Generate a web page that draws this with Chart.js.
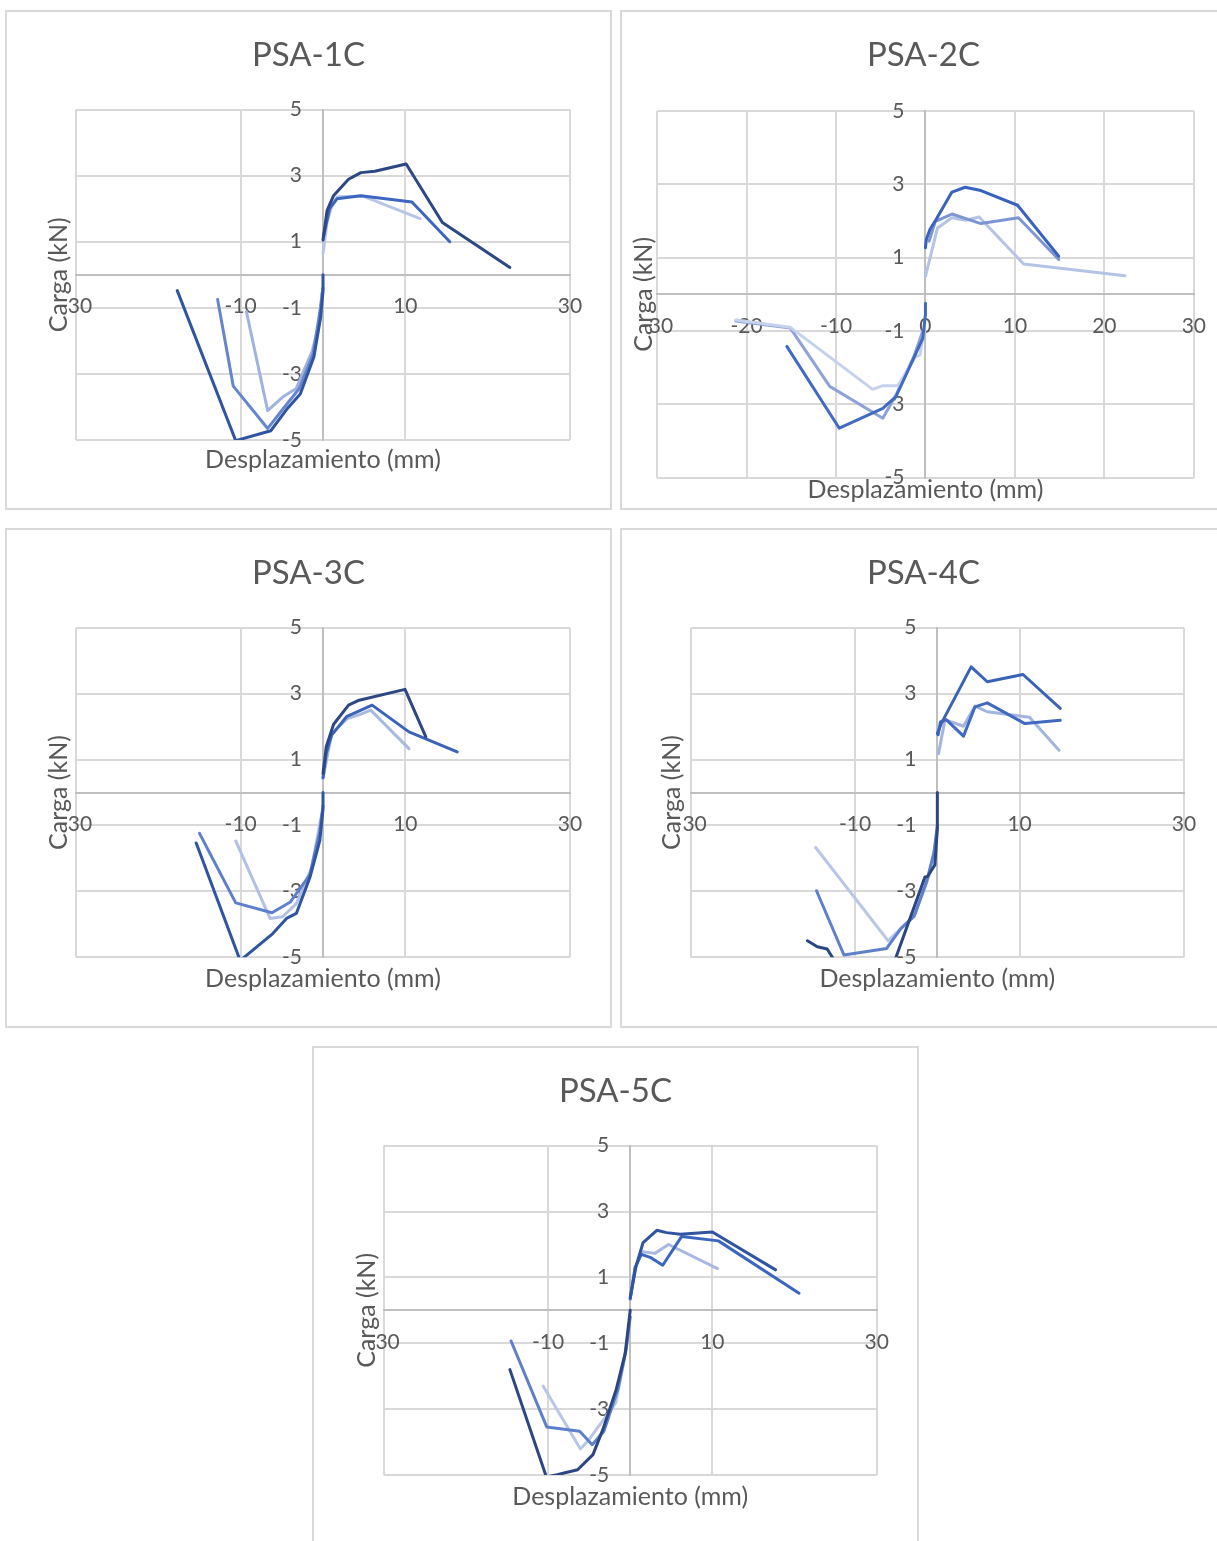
<!DOCTYPE html>
<html lang="es">
<head>
<meta charset="utf-8">
<title>Curvas carga-desplazamiento PSA</title>
<script src="https://cdn.jsdelivr.net/npm/chart.js@4.4.1/dist/chart.umd.min.js"></script>
<style>
  html, body { margin: 0; padding: 0; background: #fff; width: 1217px; height: 1541px; overflow: hidden; }
  .panel { position: absolute; box-sizing: border-box; width: 607px; height: 500px; border: 2px solid #d9d9d9; background: #fff; }
  .panel canvas { display: block; }
</style>
</head>
<body>
<div class="panel" style="left:5px;top:10px"><canvas id="psa1" width="603" height="496"></canvas></div>
<div class="panel" style="left:620px;top:10px"><canvas id="psa2" width="603" height="496"></canvas></div>
<div class="panel" style="left:5px;top:528px"><canvas id="psa3" width="603" height="496"></canvas></div>
<div class="panel" style="left:620px;top:528px"><canvas id="psa4" width="603" height="496"></canvas></div>
<div class="panel" style="left:312px;top:1046px"><canvas id="psa5" width="603" height="496"></canvas></div>
<script>
// ---- Axis ticks ----
const yTicks = [-5, -3, -1, 1, 3, 5];
const xTicksWide = [-30, -10, 10, 30];
const xTicksFine = [-30, -20, -10, 0, 10, 20, 30];

// ---- Texts ----
const titles = ['PSA-1C', 'PSA-2C', 'PSA-3C', 'PSA-4C', 'PSA-5C'];
const xTitle = 'Desplazamiento (mm)';
const yTitle = 'Carga (kN)';

// ---- PSA-1C: [desplazamiento mm, carga kN] ----
const psa1_pos1 = [[0, 1.05], [0.5, 1.95], [1.3, 2.4], [3.1, 2.89], [4.6, 3.09], [6.3, 3.13], [10.1, 3.35], [14.5, 1.58], [22.7, 0.22]];
const psa1_pos2 = [[0.1, 1.2], [0.8, 2.0], [1.7, 2.3], [4.6, 2.39], [10.8, 2.2], [15.4, 1.0]];
const psa1_pos3 = [[0, 0.64], [0.5, 1.6], [1.05, 2.06], [1.76, 2.36], [4.86, 2.38], [11.8, 1.7]];
const psa1_neg1 = [[-17.7, -0.48], [-10.6, -5.02], [-6.34, -4.72], [-4.43, -4.08], [-2.76, -3.61], [-1.1, -2.48], [-0.3, -1.3], [0, -0.5], [0, 0]];
const psa1_neg2 = [[-12.8, -0.75], [-10.9, -3.37], [-6.72, -4.65], [-4.5, -3.95], [-2.9, -3.45], [-1.2, -2.4], [-0.3, -1.0], [0, -0.4]];
const psa1_neg3 = [[-9.3, -1.12], [-6.72, -4.11], [-4.9, -3.7], [-3.24, -3.44], [-1.3, -2.3], [-0.4, -1.4], [-0.14, -0.56]];

// ---- PSA-2C ----
const psa2_pos1 = [[0, 1.27], [0.1, 1.5], [0.5, 1.77], [1.14, 2.02], [2.96, 2.79], [4.44, 2.92], [6.2, 2.83], [10.3, 2.43], [14.9, 1.04]];
const psa2_pos2 = [[0.4, 1.45], [1.1, 1.99], [2.96, 2.19], [6.2, 1.93], [10.4, 2.09], [14.9, 0.95]];
const psa2_pos3 = [[0, 0.49], [1.35, 1.81], [2.96, 2.09], [4.5, 2.02], [6.0, 2.11], [10.98, 0.83], [22.3, 0.51]];
const psa2_neg1 = [[-15.5, -1.42], [-9.63, -3.65], [-4.77, -3.11], [-3.3, -2.79], [-1.4, -1.79], [-0.3, -1.2], [0, -0.55], [0, -0.24]];
const psa2_neg2 = [[-21.2, -0.73], [-15.1, -0.92], [-10.7, -2.51], [-4.77, -3.38], [-3.3, -2.75], [-1.3, -1.7], [-0.3, -1.0]];
const psa2_neg3 = [[-21.2, -0.7], [-15.1, -0.9], [-5.9, -2.59], [-4.77, -2.49], [-3.08, -2.49], [-1.18, -1.72], [-0.6, -1.65], [-0.1, -0.9]];

// ---- PSA-3C ----
const psa3_pos1 = [[0, 0.58], [0.4, 1.4], [1.29, 2.07], [3.1, 2.65], [4.39, 2.8], [9.96, 3.13], [12.49, 1.69]];
const psa3_pos2 = [[0, 0.45], [0.4, 1.2], [1.05, 1.74], [2.86, 2.3], [5.96, 2.65], [10.44, 1.84], [16.3, 1.23]];
const psa3_pos3 = [[0, 0.42], [1.05, 1.79], [2.95, 2.24], [4.3, 2.35], [5.8, 2.5], [10.44, 1.33]];
const psa3_neg1 = [[-15.4, -1.53], [-10.06, -5.1], [-6.1, -4.28], [-4.43, -3.82], [-3.24, -3.67], [-1.57, -2.56], [-0.38, -1.45], [0, -0.5], [0, 0]];
const psa3_neg2 = [[-15.0, -1.24], [-10.6, -3.35], [-6.2, -3.65], [-3.96, -3.32], [-1.6, -2.5], [-0.4, -1.2], [0, -0.4]];
const psa3_neg3 = [[-10.6, -1.47], [-6.43, -3.82], [-4.9, -3.77], [-3.24, -3.37], [-1.4, -2.3], [-0.14, -0.64]];

// ---- PSA-4C ----
const psa4_pos1 = [[0, 1.79], [0.47, 2.09], [4.11, 3.81], [6.07, 3.36], [10.42, 3.58], [14.95, 2.55]];
const psa4_pos2 = [[0.1, 1.75], [0.37, 2.14], [1.07, 2.21], [3.18, 1.71], [4.58, 2.6], [6.07, 2.72], [10.65, 2.09], [14.95, 2.19]];
const psa4_pos3 = [[0.14, 1.18], [0.93, 2.21], [3.18, 2.01], [4.58, 2.62], [6.07, 2.45], [11.2, 2.28], [14.8, 1.28]];
const psa4_neg1 = [[-15.8, -4.5], [-14.6, -4.68], [-13.4, -4.75], [-9.5, -6.3], [-5.9, -5.6], [-1.5, -2.56], [-1.2, -2.55], [-0.3, -2.2], [0, -1.1], [0, 0]];
const psa4_neg2 = [[-14.7, -2.98], [-11.36, -4.93], [-6.17, -4.73], [-4.44, -4.13], [-2.8, -3.75], [-1.3, -2.7], [-0.4, -1.8], [0, -1.0]];
const psa4_neg3 = [[-14.8, -1.67], [-5.98, -4.5], [-2.8, -3.72], [-1.4, -2.81], [-0.7, -2.3], [0, -1.14]];

// ---- PSA-5C ----
const psa5_pos1 = [[0, 0.39], [0.72, 1.35], [1.57, 2.06], [3.24, 2.43], [4.43, 2.36], [6.1, 2.31], [10.0, 2.38], [17.7, 1.23]];
const psa5_pos2 = [[0, 0.35], [0.6, 1.3], [1.34, 1.7], [2.53, 1.6], [3.96, 1.37], [6.25, 2.24], [10.73, 2.11], [20.55, 0.52]];
const psa5_pos3 = [[0, 0.33], [0.6, 1.3], [1.48, 1.78], [3.0, 1.73], [4.67, 2.0], [10.63, 1.27]];
const psa5_neg1 = [[-14.64, -1.8], [-10.2, -5.06], [-8.9, -4.99], [-6.4, -4.84], [-4.53, -4.38], [-3.3, -3.6], [-1.7, -2.4], [-0.6, -1.3], [0, 0]];
const psa5_neg2 = [[-14.5, -0.93], [-10.16, -3.54], [-6.15, -3.67], [-4.63, -4.08], [-3.2, -3.67], [-1.5, -2.4], [-0.5, -1.2], [0, -0.2]];
const psa5_neg3 = [[-10.6, -2.3], [-6.06, -4.21], [-5.0, -3.92], [-1.76, -2.81], [-0.8, -1.6], [0, -0.2]];

// ---- Style ----
const textColor = '#595959';
const gridColor = '#d9d9d9';
const axisColor = '#bfbfbf';
const fontFamily = 'Lato, "Open Sans", sans-serif';

// Chart title and axis titles, placed around the plot area
const panelText = {
  id: 'panelText',
  afterDraw(chart, args, opts) {
    const { ctx, chartArea: a } = chart;
    ctx.save();
    ctx.fillStyle = textColor;
    ctx.textAlign = 'center';
    ctx.textBaseline = 'alphabetic';
    ctx.font = `${opts.titleSize}px ${fontFamily}`;
    ctx.fillText(opts.title, chart.width / 2, opts.titleY);
    ctx.font = `${opts.axisSize}px ${fontFamily}`;
    ctx.fillText(xTitle, (a.left + a.right) / 2, opts.xTitleY);
    ctx.translate(opts.yTitleX, (a.top + a.bottom) / 2);
    ctx.rotate(-Math.PI / 2);
    ctx.fillText(yTitle, 0, 0);
    ctx.restore();
  }
};

function drawPanel(id, spec) {
  const datasets = spec.series.map(s => ({
    data: s.points.map(([x, y]) => ({ x, y })),
    showLine: true,
    borderColor: s.color,
    backgroundColor: s.color,
    borderWidth: 3,
    pointRadius: 0,
    pointHoverRadius: 0,
    tension: 0,
    borderCapStyle: 'round',
    borderJoinStyle: 'round',
    order: s.order || 0
  }));
  return new Chart(document.getElementById(id), {
    type: 'scatter',
    data: { datasets },
    options: {
      responsive: false,
      animation: false,
      events: [],
      layout: { padding: spec.pad },
      plugins: {
        legend: { display: false },
        tooltip: { enabled: false },
        panelText: Object.assign({ title: spec.title, titleSize: 33, axisSize: 25 }, spec.text)
      },
      scales: {
        x: {
          type: 'linear', axis: 'x', position: { y: 0 },
          min: -30, max: 30,
          afterBuildTicks: s => { s.ticks = spec.xTicks.map(v => ({ value: v })); },
          grid: { color: gridColor, lineWidth: 2, drawTicks: false },
          border: { color: axisColor, width: 2 },
          ticks: { padding: 19, color: textColor, font: { family: fontFamily, size: 21 }, maxRotation: 0, autoSkip: false }
        },
        y: {
          type: 'linear', axis: 'y', position: { x: 0 },
          min: -5, max: 5,
          afterBuildTicks: s => { s.ticks = yTicks.map(v => ({ value: v })); },
          grid: { color: gridColor, lineWidth: 2, drawTicks: false },
          border: { color: axisColor, width: 2 },
          // labels sit to the left of the vertical axis line, with a gap
          ticks: { padding: 0, color: textColor, font: { family: fontFamily, size: 21 }, autoSkip: false,
                   callback: v => v + '\u2003\u2005' }
        }
      }
    },
    plugins: [panelText]
  });
}

function render() {
  drawPanel('psa1', {
    title: titles[0], xTicks: xTicksWide,
    pad: { left: 69, right: 40, top: 97.5, bottom: 68 },
    text: { titleY: 53.7, xTitleY: 456.3, yTitleX: 59.7 },
    series: [
      { points: psa1_pos1, color: '#2c4784' },
      { points: psa1_pos2, color: '#3c66bf' },
      { points: psa1_pos3, color: '#b7c6e7' },
      { points: psa1_neg1, color: '#2f55a2' },
      { points: psa1_neg2, color: '#6585ce' },
      { points: psa1_neg3, color: '#a0b3e0' }
    ]
  });
  drawPanel('psa2', {
    title: titles[1], xTicks: xTicksFine,
    pad: { left: 30.7, right: 27.3, top: 99, bottom: 30.3 },
    text: { titleY: 53.7, xTitleY: 486, yTitleX: 30.2 },
    series: [
      { points: psa2_pos1, color: '#3962bc' },
      { points: psa2_pos2, color: '#7d96d3' },
      { points: psa2_pos3, color: '#b4c3e6' },
      { points: psa2_neg1, color: '#416ac4' },
      { points: psa2_neg2, color: '#8ea2d8', order: 1 },
      { points: psa2_neg3, color: '#c6d1ec' }
    ]
  });
  drawPanel('psa3', {
    title: titles[2], xTicks: xTicksWide,
    pad: { left: 69, right: 40, top: 97.7, bottom: 68.7 },
    text: { titleY: 54.3, xTitleY: 456.7, yTitleX: 59.7 },
    series: [
      { points: psa3_pos1, color: '#2c4784' },
      { points: psa3_pos2, color: '#3a63ba' },
      { points: psa3_pos3, color: '#a9b9e0' },
      { points: psa3_neg1, color: '#2f55a2' },
      { points: psa3_neg2, color: '#5e80cc' },
      { points: psa3_neg3, color: '#b1c0e4' }
    ]
  });
  drawPanel('psa4', {
    title: titles[3], xTicks: xTicksWide,
    pad: { left: 68.7, right: 41, top: 97.7, bottom: 68.7 },
    text: { titleY: 54.3, xTitleY: 456.7, yTitleX: 58.2 },
    series: [
      { points: psa4_pos1, color: '#3a62b5' },
      { points: psa4_pos2, color: '#4169c2' },
      { points: psa4_pos3, color: '#a3b4df' },
      { points: psa4_neg1, color: '#2b4682' },
      { points: psa4_neg2, color: '#5e80cc' },
      { points: psa4_neg3, color: '#b9c6e7' }
    ]
  });
  drawPanel('psa5', {
    title: titles[4], xTicks: xTicksWide,
    pad: { left: 69.7, right: 40.3, top: 97.7, bottom: 69 },
    text: { titleY: 53.7, xTitleY: 457, yTitleX: 60.7 },
    series: [
      { points: psa5_pos1, color: '#2f55a0' },
      { points: psa5_pos2, color: '#3b66c0' },
      { points: psa5_pos3, color: '#a8b8e0' },
      { points: psa5_neg1, color: '#2b4682' },
      { points: psa5_neg2, color: '#5e80cc' },
      { points: psa5_neg3, color: '#b9c6e7' }
    ]
  });
}

const fontReady = (document.fonts && document.fonts.load)
  ? Promise.all([document.fonts.load('21px Lato'), document.fonts.load('33px Lato')]).catch(() => null)
  : Promise.resolve();
fontReady.then(render, render);
</script>
</body>
</html>
